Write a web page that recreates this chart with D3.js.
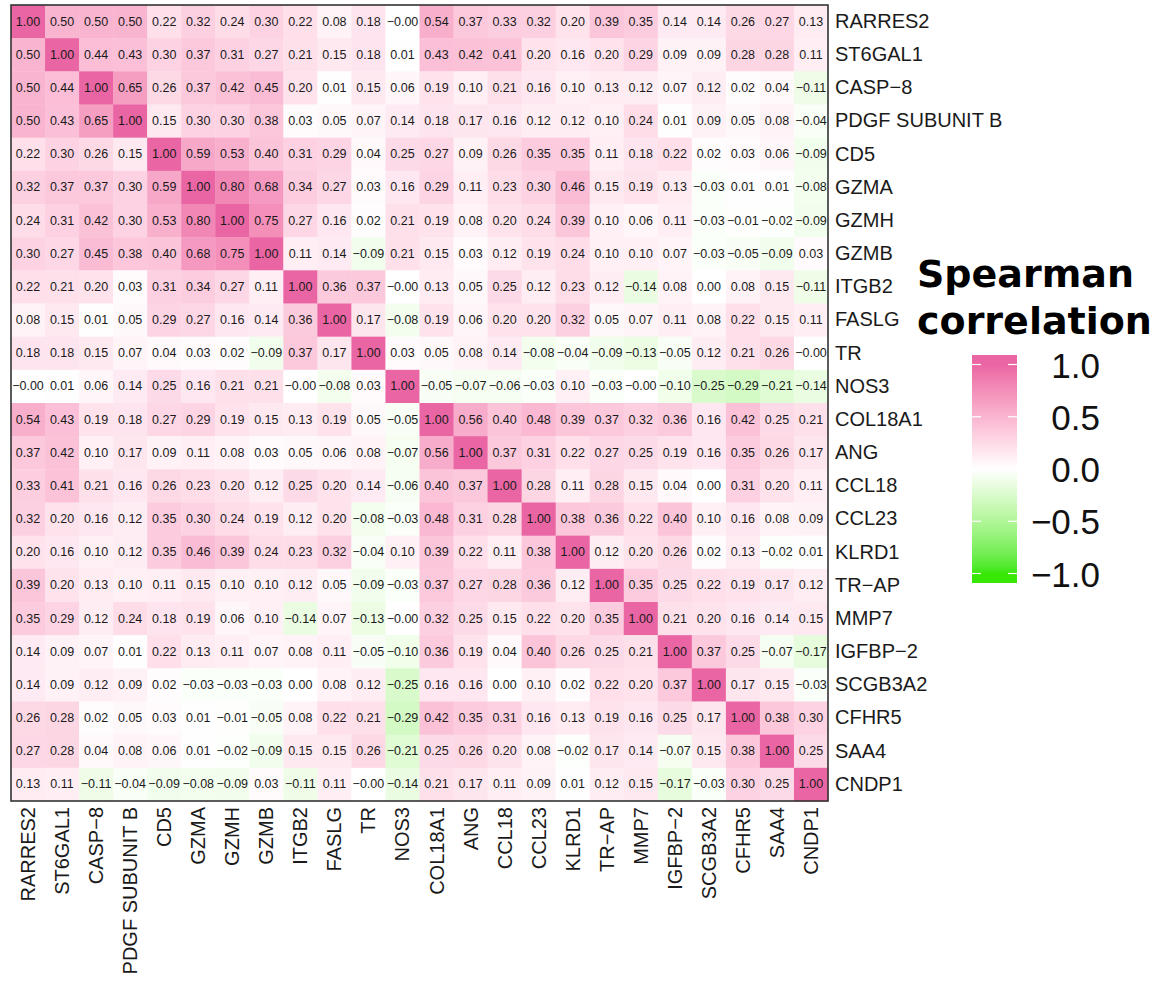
<!DOCTYPE html>
<html>
<head>
<meta charset="utf-8">
<script src="https://cdn.jsdelivr.net/npm/d3@7"></script>
<style>
  html, body { margin: 0; padding: 0; background: #fff; }
  svg { display: block; }
</style>
</head>
<body>
<svg id="chart" width="1168" height="981"></svg>
<script>
// Marker names, in plotting order (rows top to bottom, columns left to right)
const markers = ["RARRES2", "ST6GAL1", "CASP\u22128", "PDGF SUBUNIT B", "CD5", "GZMA", "GZMH", "GZMB",
  "ITGB2", "FASLG", "TR", "NOS3", "COL18A1", "ANG", "CCL18", "CCL23", "KLRD1", "TR\u2212AP",
  "MMP7", "IGFBP\u22122", "SCGB3A2", "CFHR5", "SAA4", "CNDP1"];

// Spearman correlation matrix, one row per marker
const rhoRARRES2 = [1.00, 0.50, 0.50, 0.50, 0.22, 0.32, 0.24, 0.30, 0.22, 0.08, 0.18, -0.00, 0.54, 0.37, 0.33, 0.32, 0.20, 0.39, 0.35, 0.14, 0.14, 0.26, 0.27, 0.13];
const rhoST6GAL1 = [0.50, 1.00, 0.44, 0.43, 0.30, 0.37, 0.31, 0.27, 0.21, 0.15, 0.18, 0.01, 0.43, 0.42, 0.41, 0.20, 0.16, 0.20, 0.29, 0.09, 0.09, 0.28, 0.28, 0.11];
const rhoCASP8   = [0.50, 0.44, 1.00, 0.65, 0.26, 0.37, 0.42, 0.45, 0.20, 0.01, 0.15, 0.06, 0.19, 0.10, 0.21, 0.16, 0.10, 0.13, 0.12, 0.07, 0.12, 0.02, 0.04, -0.11];
const rhoPDGFB   = [0.50, 0.43, 0.65, 1.00, 0.15, 0.30, 0.30, 0.38, 0.03, 0.05, 0.07, 0.14, 0.18, 0.17, 0.16, 0.12, 0.12, 0.10, 0.24, 0.01, 0.09, 0.05, 0.08, -0.04];
const rhoCD5     = [0.22, 0.30, 0.26, 0.15, 1.00, 0.59, 0.53, 0.40, 0.31, 0.29, 0.04, 0.25, 0.27, 0.09, 0.26, 0.35, 0.35, 0.11, 0.18, 0.22, 0.02, 0.03, 0.06, -0.09];
const rhoGZMA    = [0.32, 0.37, 0.37, 0.30, 0.59, 1.00, 0.80, 0.68, 0.34, 0.27, 0.03, 0.16, 0.29, 0.11, 0.23, 0.30, 0.46, 0.15, 0.19, 0.13, -0.03, 0.01, 0.01, -0.08];
const rhoGZMH    = [0.24, 0.31, 0.42, 0.30, 0.53, 0.80, 1.00, 0.75, 0.27, 0.16, 0.02, 0.21, 0.19, 0.08, 0.20, 0.24, 0.39, 0.10, 0.06, 0.11, -0.03, -0.01, -0.02, -0.09];
const rhoGZMB    = [0.30, 0.27, 0.45, 0.38, 0.40, 0.68, 0.75, 1.00, 0.11, 0.14, -0.09, 0.21, 0.15, 0.03, 0.12, 0.19, 0.24, 0.10, 0.10, 0.07, -0.03, -0.05, -0.09, 0.03];
const rhoITGB2   = [0.22, 0.21, 0.20, 0.03, 0.31, 0.34, 0.27, 0.11, 1.00, 0.36, 0.37, -0.00, 0.13, 0.05, 0.25, 0.12, 0.23, 0.12, -0.14, 0.08, 0.00, 0.08, 0.15, -0.11];
const rhoFASLG   = [0.08, 0.15, 0.01, 0.05, 0.29, 0.27, 0.16, 0.14, 0.36, 1.00, 0.17, -0.08, 0.19, 0.06, 0.20, 0.20, 0.32, 0.05, 0.07, 0.11, 0.08, 0.22, 0.15, 0.11];
const rhoTR      = [0.18, 0.18, 0.15, 0.07, 0.04, 0.03, 0.02, -0.09, 0.37, 0.17, 1.00, 0.03, 0.05, 0.08, 0.14, -0.08, -0.04, -0.09, -0.13, -0.05, 0.12, 0.21, 0.26, -0.00];
const rhoNOS3    = [-0.00, 0.01, 0.06, 0.14, 0.25, 0.16, 0.21, 0.21, -0.00, -0.08, 0.03, 1.00, -0.05, -0.07, -0.06, -0.03, 0.10, -0.03, -0.00, -0.10, -0.25, -0.29, -0.21, -0.14];
const rhoCOL18A1 = [0.54, 0.43, 0.19, 0.18, 0.27, 0.29, 0.19, 0.15, 0.13, 0.19, 0.05, -0.05, 1.00, 0.56, 0.40, 0.48, 0.39, 0.37, 0.32, 0.36, 0.16, 0.42, 0.25, 0.21];
const rhoANG     = [0.37, 0.42, 0.10, 0.17, 0.09, 0.11, 0.08, 0.03, 0.05, 0.06, 0.08, -0.07, 0.56, 1.00, 0.37, 0.31, 0.22, 0.27, 0.25, 0.19, 0.16, 0.35, 0.26, 0.17];
const rhoCCL18   = [0.33, 0.41, 0.21, 0.16, 0.26, 0.23, 0.20, 0.12, 0.25, 0.20, 0.14, -0.06, 0.40, 0.37, 1.00, 0.28, 0.11, 0.28, 0.15, 0.04, 0.00, 0.31, 0.20, 0.11];
const rhoCCL23   = [0.32, 0.20, 0.16, 0.12, 0.35, 0.30, 0.24, 0.19, 0.12, 0.20, -0.08, -0.03, 0.48, 0.31, 0.28, 1.00, 0.38, 0.36, 0.22, 0.40, 0.10, 0.16, 0.08, 0.09];
const rhoKLRD1   = [0.20, 0.16, 0.10, 0.12, 0.35, 0.46, 0.39, 0.24, 0.23, 0.32, -0.04, 0.10, 0.39, 0.22, 0.11, 0.38, 1.00, 0.12, 0.20, 0.26, 0.02, 0.13, -0.02, 0.01];
const rhoTRAP    = [0.39, 0.20, 0.13, 0.10, 0.11, 0.15, 0.10, 0.10, 0.12, 0.05, -0.09, -0.03, 0.37, 0.27, 0.28, 0.36, 0.12, 1.00, 0.35, 0.25, 0.22, 0.19, 0.17, 0.12];
const rhoMMP7    = [0.35, 0.29, 0.12, 0.24, 0.18, 0.19, 0.06, 0.10, -0.14, 0.07, -0.13, -0.00, 0.32, 0.25, 0.15, 0.22, 0.20, 0.35, 1.00, 0.21, 0.20, 0.16, 0.14, 0.15];
const rhoIGFBP2  = [0.14, 0.09, 0.07, 0.01, 0.22, 0.13, 0.11, 0.07, 0.08, 0.11, -0.05, -0.10, 0.36, 0.19, 0.04, 0.40, 0.26, 0.25, 0.21, 1.00, 0.37, 0.25, -0.07, -0.17];
const rhoSCGB3A2 = [0.14, 0.09, 0.12, 0.09, 0.02, -0.03, -0.03, -0.03, 0.00, 0.08, 0.12, -0.25, 0.16, 0.16, 0.00, 0.10, 0.02, 0.22, 0.20, 0.37, 1.00, 0.17, 0.15, -0.03];
const rhoCFHR5   = [0.26, 0.28, 0.02, 0.05, 0.03, 0.01, -0.01, -0.05, 0.08, 0.22, 0.21, -0.29, 0.42, 0.35, 0.31, 0.16, 0.13, 0.19, 0.16, 0.25, 0.17, 1.00, 0.38, 0.30];
const rhoSAA4    = [0.27, 0.28, 0.04, 0.08, 0.06, 0.01, -0.02, -0.09, 0.15, 0.15, 0.26, -0.21, 0.25, 0.26, 0.20, 0.08, -0.02, 0.17, 0.14, -0.07, 0.15, 0.38, 1.00, 0.25];
const rhoCNDP1   = [0.13, 0.11, -0.11, -0.04, -0.09, -0.08, -0.09, 0.03, -0.11, 0.11, -0.00, -0.14, 0.21, 0.17, 0.11, 0.09, 0.01, 0.12, 0.15, -0.17, -0.03, 0.30, 0.25, 1.00];

const rhoRows = [rhoRARRES2, rhoST6GAL1, rhoCASP8, rhoPDGFB, rhoCD5, rhoGZMA, rhoGZMH, rhoGZMB,
  rhoITGB2, rhoFASLG, rhoTR, rhoNOS3, rhoCOL18A1, rhoANG, rhoCCL18, rhoCCL23, rhoKLRD1, rhoTRAP,
  rhoMMP7, rhoIGFBP2, rhoSCGB3A2, rhoCFHR5, rhoSAA4, rhoCNDP1];

// Colour bar ticks
const legendTicks = [1.0, 0.5, 0.0, -0.5, -1.0];
const legendTitle = ["Spearman", "correlation"];

// ---- layout ----
const panel = { left: 11, top: 5, right: 828, bottom: 801 };
const svg = d3.select("#chart");
const FONT = "'Liberation Sans', Arial, Helvetica, sans-serif";
const MINUS = "\u2212";

const x = d3.scaleBand().domain(markers).range([panel.left, panel.right]);
const y = d3.scaleBand().domain(markers).range([panel.top, panel.bottom]);

const color = d3.scaleLinear()
  .domain([-1, 0, 1])
  .range(["#36E804", "#ffffff", "#EA65A3"])
  .interpolate(d3.interpolateLab)
  .clamp(true);

function fmt(v, digits) {
  const neg = v < 0 || Object.is(v, -0);
  return (neg ? MINUS : "") + Math.abs(v).toFixed(digits);
}

const cells = [];
rhoRows.forEach((row, i) => row.forEach((v, j) => cells.push({ r: markers[i], c: markers[j], v })));

// tiles
svg.append("g").selectAll("rect").data(cells).join("rect")
  .attr("x", d => x(d.c))
  .attr("y", d => y(d.r))
  .attr("width", x.bandwidth() + 0.4)
  .attr("height", y.bandwidth() + 0.4)
  .attr("fill", d => color(d.v));

// coefficient labels
svg.append("g").selectAll("text").data(cells).join("text")
  .attr("x", d => x(d.c) + x.bandwidth() / 2)
  .attr("y", d => y(d.r) + y.bandwidth() / 2)
  .attr("text-anchor", "middle")
  .attr("dominant-baseline", "central")
  .attr("font-family", FONT)
  .attr("font-size", 12.5)
  .attr("fill", "#1a1a1a")
  .text(d => fmt(d.v, 2));

// panel border
svg.append("rect")
  .attr("x", panel.left).attr("y", panel.top)
  .attr("width", panel.right - panel.left).attr("height", panel.bottom - panel.top)
  .attr("fill", "none").attr("stroke", "#333").attr("stroke-width", 1.6);

// right-hand row labels
const yAxis = d3.axisRight(y).tickSize(0).tickPadding(7);
const gy = svg.append("g").attr("transform", `translate(${panel.right},0)`).call(yAxis);
gy.select(".domain").remove();
gy.selectAll("text").attr("font-family", FONT).attr("font-size", 20).attr("fill", "#1a1a1a");

// bottom column labels, rotated
const xAxis = d3.axisBottom(x).tickSize(0).tickPadding(0);
const gx = svg.append("g").attr("transform", `translate(0,${panel.bottom})`).call(xAxis);
gx.select(".domain").remove();
gx.selectAll("text")
  .attr("font-family", FONT).attr("font-size", 20).attr("fill", "#1a1a1a")
  .attr("text-anchor", "end")
  .attr("dy", null)
  .attr("dominant-baseline", "central")
  .attr("transform", "translate(0,6) rotate(-90)")
  .attr("x", 0).attr("y", 0);

// ---- colour bar legend ----
const bar = { x: 972, w: 45, top: 355, bottom: 583 };
const ly = d3.scaleLinear().domain([-1, 1]).range([573.5, 364.5]);
const vTop = ly.invert(bar.top), vBottom = ly.invert(bar.bottom);

const defs = svg.append("defs");
const grad = defs.append("linearGradient").attr("id", "rhoGrad")
  .attr("x1", 0).attr("y1", 0).attr("x2", 0).attr("y2", 1);
d3.range(0, 1.0001, 0.02).forEach(t => {
  const v = vTop + (vBottom - vTop) * t;
  grad.append("stop").attr("offset", t).attr("stop-color", color(v));
});

svg.append("rect")
  .attr("x", bar.x).attr("y", bar.top)
  .attr("width", bar.w).attr("height", bar.bottom - bar.top)
  .attr("fill", "url(#rhoGrad)");

// white tick marks on both edges of the bar
const tickLen = 9;
const lt = svg.append("g");
legendTicks.forEach(t => {
  lt.append("line").attr("x1", bar.x).attr("x2", bar.x + tickLen)
    .attr("y1", ly(t)).attr("y2", ly(t)).attr("stroke", "#fff").attr("stroke-width", 1.2);
  lt.append("line").attr("x1", bar.x + bar.w - tickLen).attr("x2", bar.x + bar.w)
    .attr("y1", ly(t)).attr("y2", ly(t)).attr("stroke", "#fff").attr("stroke-width", 1.2);
});

const legAxis = d3.axisRight(ly).tickValues(legendTicks).tickSize(0).tickPadding(0)
  .tickFormat(d => fmt(d, 1));
const gl = svg.append("g").attr("transform", `translate(1100,0)`).call(legAxis);
gl.select(".domain").remove();
gl.selectAll("text")
  .attr("font-family", FONT).attr("font-size", 35).attr("fill", "#111")
  .attr("text-anchor", "end").attr("x", 0).attr("dy", null)
  .attr("dominant-baseline", "central");

// legend title
svg.append("g").selectAll("text").data(legendTitle).join("text")
  .attr("x", 917)
  .attr("y", (d, i) => 287 + i * 47)
  .attr("font-family", "'DejaVu Sans', sans-serif")
  .attr("font-weight", "bold")
  .attr("font-size", 38)
  .attr("fill", "#000")
  .text(d => d);
</script>
</body>
</html>
